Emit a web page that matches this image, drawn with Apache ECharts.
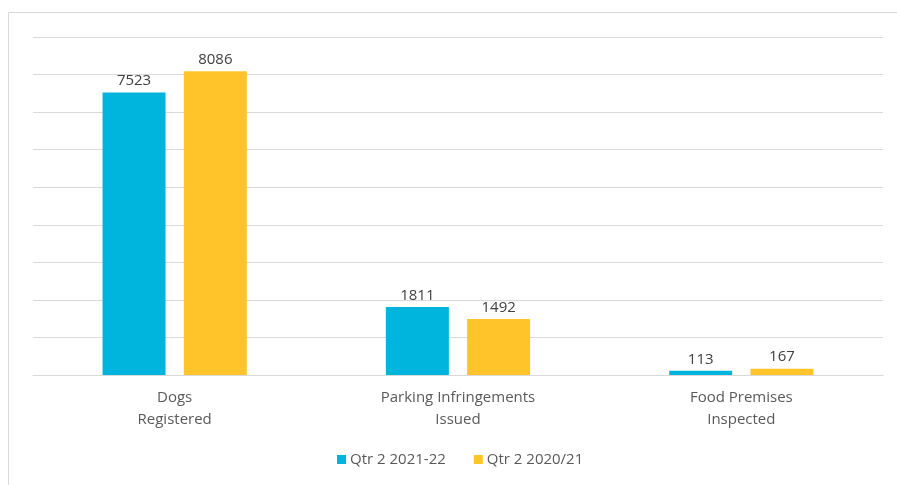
<!DOCTYPE html>
<html><head><meta charset="utf-8">
<script src="https://cdn.jsdelivr.net/npm/echarts@6/dist/echarts.min.js"></script>
<style>html,body{margin:0;padding:0;background:#fff}#c{width:897px;height:485px}</style>
</head><body><div id="c"></div>
<script>
const categories = ['Dogs\nRegistered', 'Parking Infringements\nIssued', 'Food Premises\nInspected'];
const seriesNames = ['Qtr 2 2021-22', 'Qtr 2 2020/21'];
const q2_2021_22 = [7523, 1811, 113];
const q2_2020_21 = [8086, 1492, 167];
const colors = ['#00B5DD', '#FFC42A'];
const font = 'Open Sans, Liberation Sans, sans-serif';
const chart = echarts.init(document.getElementById('c'), null, {renderer: 'canvas'});
chart.setOption({
  animation: false,
  graphic: [{type: 'rect', shape: {x: 8.5, y: 12.5, width: 900, height: 500}, style: {fill: 'none', stroke: '#d9d9d9', lineWidth: 1}, z: -1}],
  grid: {left: 33, right: 14, top: 37, bottom: 110, containLabel: false},
  legend: {bottom: 13, left: 332, itemWidth: 9, itemHeight: 9, itemGap: 28, icon: 'rect',
    textStyle: {color: '#595959', fontSize: 15, fontFamily: font, padding: [0,0,0,-1]}, data: seriesNames},
  xAxis: {type: 'category', data: categories,
    axisLine: {lineStyle: {color: '#d9d9d9'}}, axisTick: {show: false},
    axisLabel: {color: '#595959', fontSize: 15, fontFamily: font, lineHeight: 22, margin: 12}},
  yAxis: {type: 'value', min: 0, max: 9000, interval: 1000, axisLabel: {show: false},
    axisLine: {show: false}, axisTick: {show: false}, splitLine: {lineStyle: {color: '#d9d9d9'}}},
  series: [
    {name: seriesNames[0], type: 'bar', data: q2_2021_22, barWidth: 63, barGap: '29%', itemStyle: {color: colors[0]},
     label: {show: true, position: 'top', distance: 4, color: '#404040', fontSize: 15, fontFamily: font}},
    {name: seriesNames[1], type: 'bar', data: q2_2020_21, barWidth: 63, itemStyle: {color: colors[1]},
     label: {show: true, position: 'top', distance: 4, color: '#404040', fontSize: 15, fontFamily: font}}
  ]
});
</script></body></html>
